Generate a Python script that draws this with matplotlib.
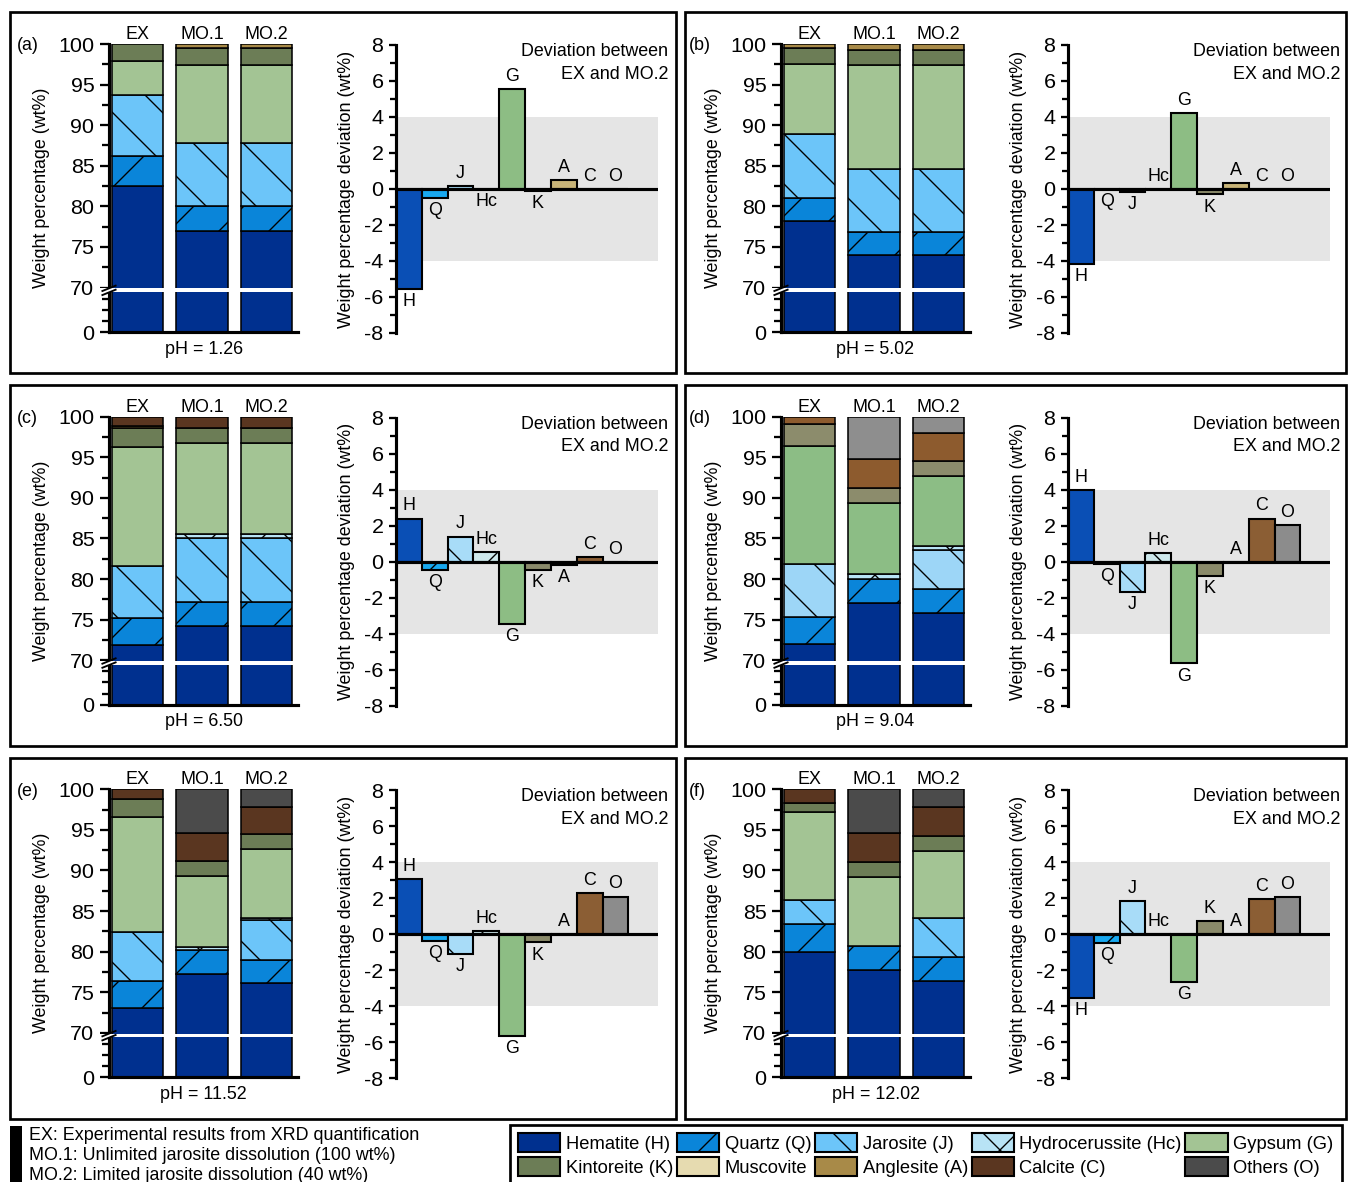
import numpy as np
import matplotlib
matplotlib.use("Agg")
import matplotlib.pyplot as plt
from matplotlib.patches import Patch, Rectangle
from matplotlib import transforms

plt.rcParams["font.family"] = ["Liberation Sans", "DejaVu Sans"]
plt.rcParams["hatch.linewidth"] = 0.65
plt.rcParams["axes.unicode_minus"] = False
FS = 8.6        # labels and annotations
TICK_FS = 10.3  # tick labels
LEG_FS = 8.8    # legend entries

# ---------------- categories ----------------
minerals = ["Hematite (H)", "Quartz (Q)", "Jarosite (J)", "Hydrocerussite (Hc)",
            "Gypsum (G)", "Kintoreite (K)", "Muscovite", "Anglesite (A)",
            "Calcite (C)", "Others (O)"]
dev_names = ["H", "Q", "J", "Hc", "G", "K", "A", "C", "O"]
models = ["EX", "MO.1", "MO.2"]
ph_values = ["1.26", "5.02", "6.50", "9.04", "11.52", "12.02"]
panel_tags = ["(a)", "(b)", "(c)", "(d)", "(e)", "(f)"]

# ---------------- mineral contents (wt%), order as in `minerals` ----------------
ex_a = [82.5, 3.65, 7.55, 0, 4.15, 2.15, 0, 0, 0, 0]
mo1_a = [77.0, 3.1, 7.7, 0, 9.65, 2.0, 0, 0.55, 0, 0]
mo2_a = [76.95, 3.15, 7.65, 0, 9.7, 2.05, 0, 0.5, 0, 0]

ex_b = [78.2, 2.85, 7.85, 0, 8.65, 2.0, 0, 0.45, 0, 0]
mo1_b = [74.05, 2.85, 7.7, 0, 12.85, 1.8, 0, 0.75, 0, 0]
mo2_b = [74.05, 2.85, 7.7, 0, 12.85, 1.8, 0, 0.75, 0, 0]

ex_c = [71.9, 3.35, 6.4, 0, 14.6, 2.35, 0, 0.2, 1.2, 0]
mo1_c = [74.25, 2.9, 7.85, 0.6, 11.1, 1.85, 0, 0, 1.45, 0]
mo2_c = [74.25, 2.9, 7.85, 0.6, 11.1, 1.85, 0, 0, 1.45, 0]

ex_d = [72.0, 3.3, 6.55, 0, 14.55, 2.65, 0, 0, 0.95, 0]
mo1_d = [77.0, 3.05, 0, 0.6, 8.75, 1.85, 0, 0, 3.6, 5.15]
mo2_d = [75.8, 2.95, 4.8, 0.55, 8.65, 1.85, 0, 0, 3.4, 2.0]

ex_e = [73.0, 3.4, 6.0, 0, 14.2, 2.25, 0, 0, 1.15, 0]
mo1_e = [77.3, 2.95, 0, 0.3, 8.8, 1.85, 0, 0, 3.45, 5.35]
mo2_e = [76.1, 2.85, 4.95, 0.3, 8.4, 1.85, 0, 0, 3.4, 2.15]

ex_f = [79.9, 3.5, 3.0, 0, 10.85, 1.1, 0, 0, 1.65, 0]
mo1_f = [77.7, 3.0, 0, 0, 8.5, 1.85, 0, 0, 3.6, 5.35]
mo2_f = [76.4, 2.95, 4.85, 0, 8.25, 1.85, 0, 0, 3.5, 2.2]

# ---------------- deviation MO.2 - EX (wt%), order as in `dev_names` ----------------
dev_a = [-5.55, -0.5, 0.15, 0, 5.55, -0.1, 0.5, 0, 0]
dev_b = [-4.15, 0, -0.15, 0, 4.2, -0.3, 0.35, 0, 0]
dev_c = [2.4, -0.45, 1.4, 0.55, -3.45, -0.45, -0.2, 0.25, 0]
dev_d = [4.0, -0.1, -1.7, 0.5, -5.65, -0.8, 0, 2.4, 2.05]
dev_e = [3.05, -0.35, -1.1, 0.2, -5.65, -0.45, 0, 2.3, 2.1]
dev_f = [-3.55, -0.5, 1.85, 0, -2.65, 0.75, 0, 1.95, 2.05]

# labels of zero-height deviation bars that sit below the zero line
zero_below = {"(a)": ["Hc"], "(b)": ["Q"]}

# ---------------- styles ----------------
stack_colors = ["#00308f", "#0a85d9", "#6cc5f9", "#b8e3f5", "#a3c494",
                "#6c7d56", "#e6dbb0", "#a88a48", "#5a3620", "#4b4b4b"]
hatches = ["", "/", "\\", "x", "", "", "", "", "", ""]
light_colors = dict(enumerate(stack_colors))
light_colors.update({2: "#9dd6f7", 4: "#8cbd85", 5: "#8c8c6c", 8: "#8d5b2e", 9: "#8e8e8e"})
light_colors = [light_colors[i] for i in range(10)]

dev_colors = ["#0a4fb5", "#18a8ef", "#a8dcf8", "#cde8ec", "#8dbd84",
              "#8a8a6a", "#c8b478", "#8b5e34", "#8c8c8c"]
dev_hatches = ["", "/", "\\", "x", "", "", "", "", ""]

# ---------------- figure & geometry (pixels) ----------------
W, H, DPI = 1348, 1182, 150
fig = plt.figure(figsize=(W / DPI, H / DPI), dpi=DPI)


def fig_rect(l, r, t, b):
    return [l / W, 1 - b / H, (r - l) / W, (b - t) / H]


C = 0.0783  # compression of the 0-70 segment


def fwd(y):
    y = np.asarray(y, dtype=float)
    return np.where(y >= 70, y, 70 - (70 - y) * C)


def inv(f):
    f = np.asarray(f, dtype=float)
    return np.where(f >= 70, f, 70 - (70 - f) / C)


def draw_stack(ax, comps, palette, ph):
    ax.set_yscale("function", functions=(fwd, inv))
    for x, vals in enumerate(comps):
        bottom = 0.0
        for m, v in enumerate(vals):
            if v <= 0:
                continue
            ax.bar(x, v, bottom=bottom, width=0.8, color=palette[m], hatch=hatches[m],
                   edgecolor="black", linewidth=0.75, zorder=2)
            bottom += v
    ax.set_xlim(-0.44, 2.49)
    ax.set_ylim(0, 100)
    ax.set_yticks([0, 70, 75, 80, 85, 90, 95, 100])
    ax.set_yticklabels(["0", "70", "75", "80", "85", "90", "95", "100"])
    ax.set_yticks([17.5, 35, 52.5, 72.5, 77.5, 82.5, 87.5, 92.5, 97.5], minor=True)
    ax.tick_params(axis="y", which="major", direction="out", length=4.5, width=1.1,
                   labelsize=TICK_FS, pad=2.5)
    ax.tick_params(axis="y", which="minor", direction="out", length=3.5, width=1.1)
    ax.set_xticks(range(3))
    ax.set_xticklabels(models)
    ax.xaxis.tick_top()
    ax.tick_params(axis="x", length=0, pad=0.4, labelsize=FS)
    for s in ["top", "right"]:
        ax.spines[s].set_visible(False)
    ax.spines["left"].set_linewidth(1.5)
    ax.spines["bottom"].set_linewidth(1.5)
    ax.xaxis.set_label_position("bottom")
    ax.set_xlabel("pH = " + ph, fontsize=FS, labelpad=4.2)
    ax.set_ylabel("Weight percentage (wt%)", fontsize=FS)
    ax.yaxis.set_label_coords(-0.31, 0.5)
    # axis break just below 70
    ax.axhspan(63.0, 68.8, xmin=-0.07, xmax=1.0, color="white", lw=0, zorder=5, clip_on=False)
    bt = transforms.blended_transform_factory(ax.transAxes, ax.transData)
    for fc in (69.9, 69.4):
        ax.plot([-0.035, 0.035], [float(inv(fc - 0.33)), float(inv(fc + 0.33))],
                transform=bt, color="black", lw=0.9, clip_on=False, zorder=6)


def draw_dev(ax, dev, below):
    ax.axhspan(-4, 4, color="#e5e5e5", lw=0, zorder=0)
    bars = ax.bar(range(len(dev)), dev, width=1.0, color=dev_colors,
                  edgecolor="black", linewidth=1.0, zorder=2)
    for b, h in zip(bars, dev_hatches):
        b.set_hatch(h)
    ax.axhline(0, color="black", lw=1.5, zorder=3)
    for i, (name, v) in enumerate(zip(dev_names, dev)):
        up = v > 0 or (v == 0 and name not in below)
        ax.annotate(name, xy=(i, v), xytext=(0, 2 if up else -2), textcoords="offset points",
                    ha="center", va="bottom" if up else "top", fontsize=FS, zorder=4)
    ax.set_xlim(-0.5, 9.65)
    ax.set_ylim(-8, 8)
    ax.set_yticks(range(-8, 9, 2))
    ax.set_yticks(range(-7, 8, 2), minor=True)
    ax.tick_params(axis="y", which="major", direction="out", length=3.5, width=1.1,
                   labelsize=TICK_FS, pad=2.5)
    ax.tick_params(axis="y", which="minor", direction="out", length=3.0, width=1.1)
    ax.set_xticks([])
    for s in ["top", "right", "bottom"]:
        ax.spines[s].set_visible(False)
    ax.spines["left"].set_linewidth(1.5)
    ax.set_ylabel("Weight percentage deviation (wt%)", fontsize=FS)
    ax.yaxis.set_label_coords(-0.156, 0.5)
    ax.text(1.038, 1.0065, "Deviation between\nEX and MO.2", transform=ax.transAxes,
            ha="right", va="top", fontsize=FS, linespacing=1.42)


panels = [
    ((ex_a, mo1_a, mo2_a), dev_a, stack_colors),
    ((ex_b, mo1_b, mo2_b), dev_b, stack_colors),
    ((ex_c, mo1_c, mo2_c), dev_c, stack_colors),
    ((ex_d, mo1_d, mo2_d), dev_d, light_colors),
    ((ex_e, mo1_e, mo2_e), dev_e, stack_colors),
    ((ex_f, mo1_f, mo2_f), dev_f, stack_colors),
]
col_dx = [0, 672]
row_dy = [0, 372.7, 745.3]
box_x = [(10, 676), (685, 1346)]
box_dy = [0, 373, 746]

for k, (comps, dev, palette) in enumerate(panels):
    row, col = divmod(k, 2)
    dx, dy = col_dx[col], row_dy[row]
    tag = panel_tags[k]

    l, r = box_x[col]
    t, b = 12 + box_dy[row], 373 + box_dy[row]
    fig.add_artist(Rectangle((l / W, 1 - b / H), (r - l) / W, (b - t) / H,
                             transform=fig.transFigure, fill=False, lw=1.3,
                             edgecolor="black"))

    ax1 = fig.add_axes(fig_rect(109 + dx, 298 + dx, 44 + dy, 332 + dy))
    draw_stack(ax1, comps, palette, ph_values[k])
    fig.text((17 + dx) / W, 1 - (44 + dy) / H, tag, fontsize=FS,
             ha="left", va="center_baseline")

    ax2 = fig.add_axes(fig_rect(396 + dx, 658 + dx, 45 + dy, 333 + dy))
    draw_dev(ax2, dev, zero_below.get(tag, []))

# ---------------- notes on the model runs ----------------
fig.add_artist(Rectangle((10 / W, 0), 12 / W, (H - 1126) / H, transform=fig.transFigure,
                         color="black", lw=0))
notes = ["EX: Experimental results from XRD quantification",
         "MO.1: Unlimited jarosite dissolution (100 wt%)",
         "MO.2: Limited jarosite dissolution (40 wt%)"]
for i, line in enumerate(notes):
    fig.text(29 / W, 1 - (1134 + 19.5 * i) / H, line, fontsize=FS,
             ha="left", va="center_baseline")

# ---------------- legend ----------------
handles = [Patch(facecolor=stack_colors[i], edgecolor="black", hatch=hatches[i],
                 linewidth=1.0) for i in range(len(minerals))]
order = [0, 5, 1, 6, 2, 7, 3, 8, 4, 9]
leg = fig.legend([handles[i] for i in order], [minerals[i] for i in order], ncol=5,
                 loc="upper left", bbox_to_anchor=(510 / W, 1 - 1125 / H),
                 frameon=True, fancybox=False, edgecolor="black", framealpha=1,
                 fontsize=LEG_FS, handlelength=2.3, handleheight=1.17, handletextpad=0.3,
                 columnspacing=0.2, labelspacing=0.25, borderpad=0.45, borderaxespad=0)
leg.get_frame().set_linewidth(1.3)

fig.savefig("out.png", dpi=DPI)
